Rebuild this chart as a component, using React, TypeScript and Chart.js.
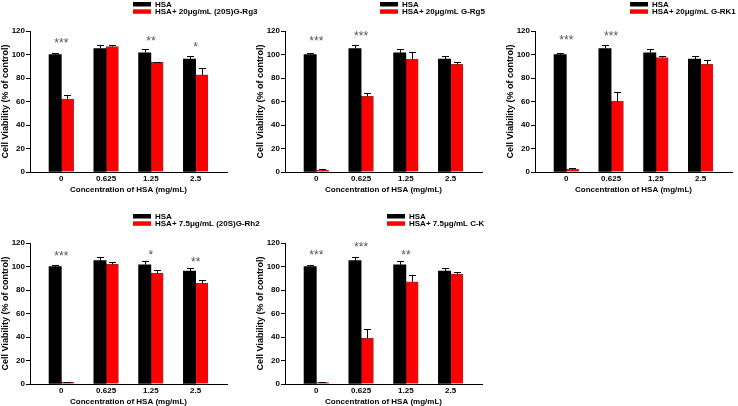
import React, { useEffect, useRef } from 'react';
import { Chart, registerables } from 'chart.js';

Chart.register(...registerables);

// ---- data ----
const CATEGORIES = ['0', '0.625', '1.25', '2.5'];
const Y_TICK_STEP = 20;
const Y_MAX = 120;

const HSA_LABEL = 'HSA';
const HSA_MEAN = [100, 105, 101.5, 96];
const HSA_SD = [1.7, 3, 3, 2.5];

const RG3_LABEL = 'HSA+ 20μg/mL (20S)G-Rg3';
const RG3_MEAN = [62, 106.7, 93.3, 82.6];
const RG3_SD = [3.4, 1, 0.6, 5.7];
const RG3_STARS = ['***', '', '**', '*'];
const RG3_STAR_Y = [113, 0, 114.6, 109.5];

const RG5_LABEL = 'HSA+ 20μg/mL G-Rg5';
const RG5_MEAN = [1.5, 64.4, 95.9, 91.6];
const RG5_SD = [0.8, 2.6, 6, 1.8];
const RG5_STARS = ['***', '***', '', ''];
const RG5_STAR_Y = [115, 119, 0, 0];

const RK1_LABEL = 'HSA+ 20μg/mL G-RK1';
const RK1_MEAN = [2.5, 60.2, 97.3, 91.6];
const RK1_SD = [0.6, 7.5, 1.5, 3.7];
const RK1_STARS = ['***', '***', '', ''];
const RK1_STAR_Y = [116, 119, 0, 0];

const RH2_LABEL = 'HSA+ 7.5μg/mL (20S)G-Rh2';
const RH2_MEAN = [1.4, 101.9, 94.2, 85.7];
const RH2_SD = [0.5, 1.7, 2.8, 2.6];
const RH2_STARS = ['***', '', '*', '**'];
const RH2_STAR_Y = [112.6, 0, 113.4, 107];

const CK_LABEL = 'HSA+ 7.5μg/mL C-K';
const CK_MEAN = [1.3, 39, 87, 93.5];
const CK_SD = [0.5, 8, 5.5, 2];
const CK_STARS = ['***', '***', '**', ''];
const CK_STAR_Y = [113.4, 119.7, 113.4, 0];

const X_TITLE = 'Concentration of HSA (mg/mL)';
const Y_TITLE = 'Cell Viability (% of control)';

// ---- styling ----
const FONT = '"Liberation Sans", Arial, Helvetica, sans-serif';
const CANVAS_W = 300;
const CANVAS_H = 212;
const AXIS_RIGHT = 227;

const errorBarPlugin = {
  id: 'errorBars',
  afterDatasetsDraw(chart: any) {
    const ctx = chart.ctx;
    const ys = chart.scales.y;
    chart.data.datasets.forEach((ds: any, di: number) => {
      const meta = chart.getDatasetMeta(di);
      meta.data.forEach((bar: any, i: number) => {
        const v = ds.data[i].y;
        const e = ds.errors[i];
        const x = Math.round(bar.x) + 0.5;
        const y0 = ys.getPixelForValue(v);
        const y1 = Math.round(ys.getPixelForValue(v + e)) + 0.5;
        ctx.save();
        ctx.strokeStyle = '#000';
        ctx.lineWidth = 1;
        ctx.beginPath();
        ctx.moveTo(x, y0);
        ctx.lineTo(x, y1);
        ctx.moveTo(x - 3.5, y1);
        ctx.lineTo(x + 3.5, y1);
        ctx.stroke();
        ctx.restore();
      });
    });
  },
};

const starsPlugin = {
  id: 'stars',
  afterDatasetsDraw(chart: any, _args: any, opts: any) {
    const ctx = chart.ctx;
    const xs = chart.scales.x;
    const ys = chart.scales.y;
    ctx.save();
    ctx.fillStyle = '#555';
    ctx.font = `12px ${FONT}`;
    ctx.textAlign = 'center';
    ctx.textBaseline = 'alphabetic';
    (opts.labels || []).forEach((s: string, i: number) => {
      if (!s) return;
      const x = xs.getPixelForValue(i);
      const y = ys.getPixelForValue(opts.values[i]);
      ctx.fillText(s, x, y + 8);
    });
    ctx.restore();
  },
};

const boxLegendPlugin = {
  id: 'boxLegend',
  afterDraw(chart: any, _args: any, opts: any) {
    const ctx = chart.ctx;
    ctx.save();
    ctx.font = `bold 8px ${FONT}`;
    ctx.textBaseline = 'middle';
    ctx.textAlign = 'left';
    chart.data.datasets.forEach((ds: any, i: number) => {
      const y = opts.y + i * 7.3;
      ctx.fillStyle = ds.backgroundColor;
      ctx.fillRect(opts.x, y, 18, 4.5);
      ctx.fillStyle = '#000';
      ctx.fillText(ds.label, opts.x + 22, y + 2.5);
    });
    ctx.restore();
  },
};

type PanelProps = {
  label: string;
  mean: number[];
  sd: number[];
  stars: string[];
  starY: number[];
  left: number;
  top: number;
  legendX: number;
};

function Panel(p: PanelProps) {
  const ref = useRef<HTMLCanvasElement | null>(null);
  useEffect(() => {
    if (!ref.current) return;
    const tickFont = { family: FONT, size: 8, weight: 'bold' as const };
    const chart = new Chart(ref.current, {
      type: 'bar',
      data: {
        datasets: [
          {
            label: HSA_LABEL,
            data: HSA_MEAN.map((v, i) => ({ x: i, y: v })),
            errors: HSA_SD,
            backgroundColor: '#000000',
            borderWidth: 0,
            barThickness: 12.3,
          } as any,
          {
            label: p.label,
            data: p.mean.map((v, i) => ({ x: i, y: v })),
            errors: p.sd,
            backgroundColor: '#ff0000',
            borderColor: 'rgba(110,0,0,0.8)',
            borderWidth: 0.8,
            barThickness: 12.3,
          } as any,
        ],
      },
      options: {
        responsive: false,
        animation: false,
        devicePixelRatio: 1,
        layout: { padding: { top: 31, left: 0, right: CANVAS_W - AXIS_RIGHT, bottom: 0 } },
        plugins: {
          legend: { display: false },
          tooltip: { enabled: false },
          stars: { labels: p.stars, values: p.starY },
          boxLegend: { x: p.legendX, y: 2 },
        } as any,
        scales: {
          x: {
            type: 'linear',
            offset: false,
            min: -0.7,
            max: 3.7,
            afterBuildTicks: (s: any) => {
              s.ticks = CATEGORIES.map((_, i) => ({ value: i }));
            },
            afterFit: (s: any) => {
              s.height = 40;
            },
            ticks: {
              autoSkip: false,
              maxRotation: 0,
              padding: 2,
              color: '#000',
              font: tickFont,
              callback: (v: any) => CATEGORIES[v] ?? '',
            },
            grid: { display: false, drawTicks: false, offset: false },
            border: { display: true, color: '#000', width: 1 },
            title: {
              display: true,
              text: X_TITLE,
              color: '#000',
              font: { family: FONT, size: 8, weight: 'bold' },
              padding: { top: 0, bottom: 17 },
            },
          },
          y: {
            min: 0,
            max: Y_MAX,
            afterFit: (s: any) => {
              s.width = 30;
            },
            ticks: { stepSize: Y_TICK_STEP, color: '#000', font: tickFont, padding: 1 },
            grid: {
              display: true,
              drawOnChartArea: false,
              drawTicks: true,
              tickLength: 4,
              color: '#000',
              lineWidth: 1,
            },
            border: { display: true, color: '#000', width: 1 },
            title: {
              display: true,
              text: Y_TITLE,
              color: '#000',
              font: { family: FONT, size: 9, weight: 'bold' },
              padding: { top: 0, bottom: 0 },
            },
          },
        },
      } as any,
      plugins: [errorBarPlugin, starsPlugin, boxLegendPlugin],
    });
    return () => chart.destroy();
  }, []);
  return (
    <canvas
      ref={ref}
      width={CANVAS_W}
      height={CANVAS_H}
      style={{ position: 'absolute', left: p.left, top: p.top, width: CANVAS_W, height: CANVAS_H }}
    />
  );
}

export default function App() {
  return (
    <div
      style={{
        position: 'fixed',
        left: 0,
        top: 0,
        width: 738,
        height: 406,
        overflow: 'hidden',
        background: '#fff',
      }}
    >
      <Panel label={RG3_LABEL} mean={RG3_MEAN} sd={RG3_SD} stars={RG3_STARS} starY={RG3_STAR_Y} left={0} top={0} legendX={133} />
      <Panel label={RG5_LABEL} mean={RG5_MEAN} sd={RG5_SD} stars={RG5_STARS} starY={RG5_STAR_Y} left={255} top={0} legendX={125} />
      <Panel label={RK1_LABEL} mean={RK1_MEAN} sd={RK1_SD} stars={RK1_STARS} starY={RK1_STAR_Y} left={505} top={0} legendX={125} />
      <Panel label={RH2_LABEL} mean={RH2_MEAN} sd={RH2_SD} stars={RH2_STARS} starY={RH2_STAR_Y} left={0} top={212} legendX={133} />
      <Panel label={CK_LABEL} mean={CK_MEAN} sd={CK_SD} stars={CK_STARS} starY={CK_STAR_Y} left={255} top={212} legendX={132} />
    </div>
  );
}
